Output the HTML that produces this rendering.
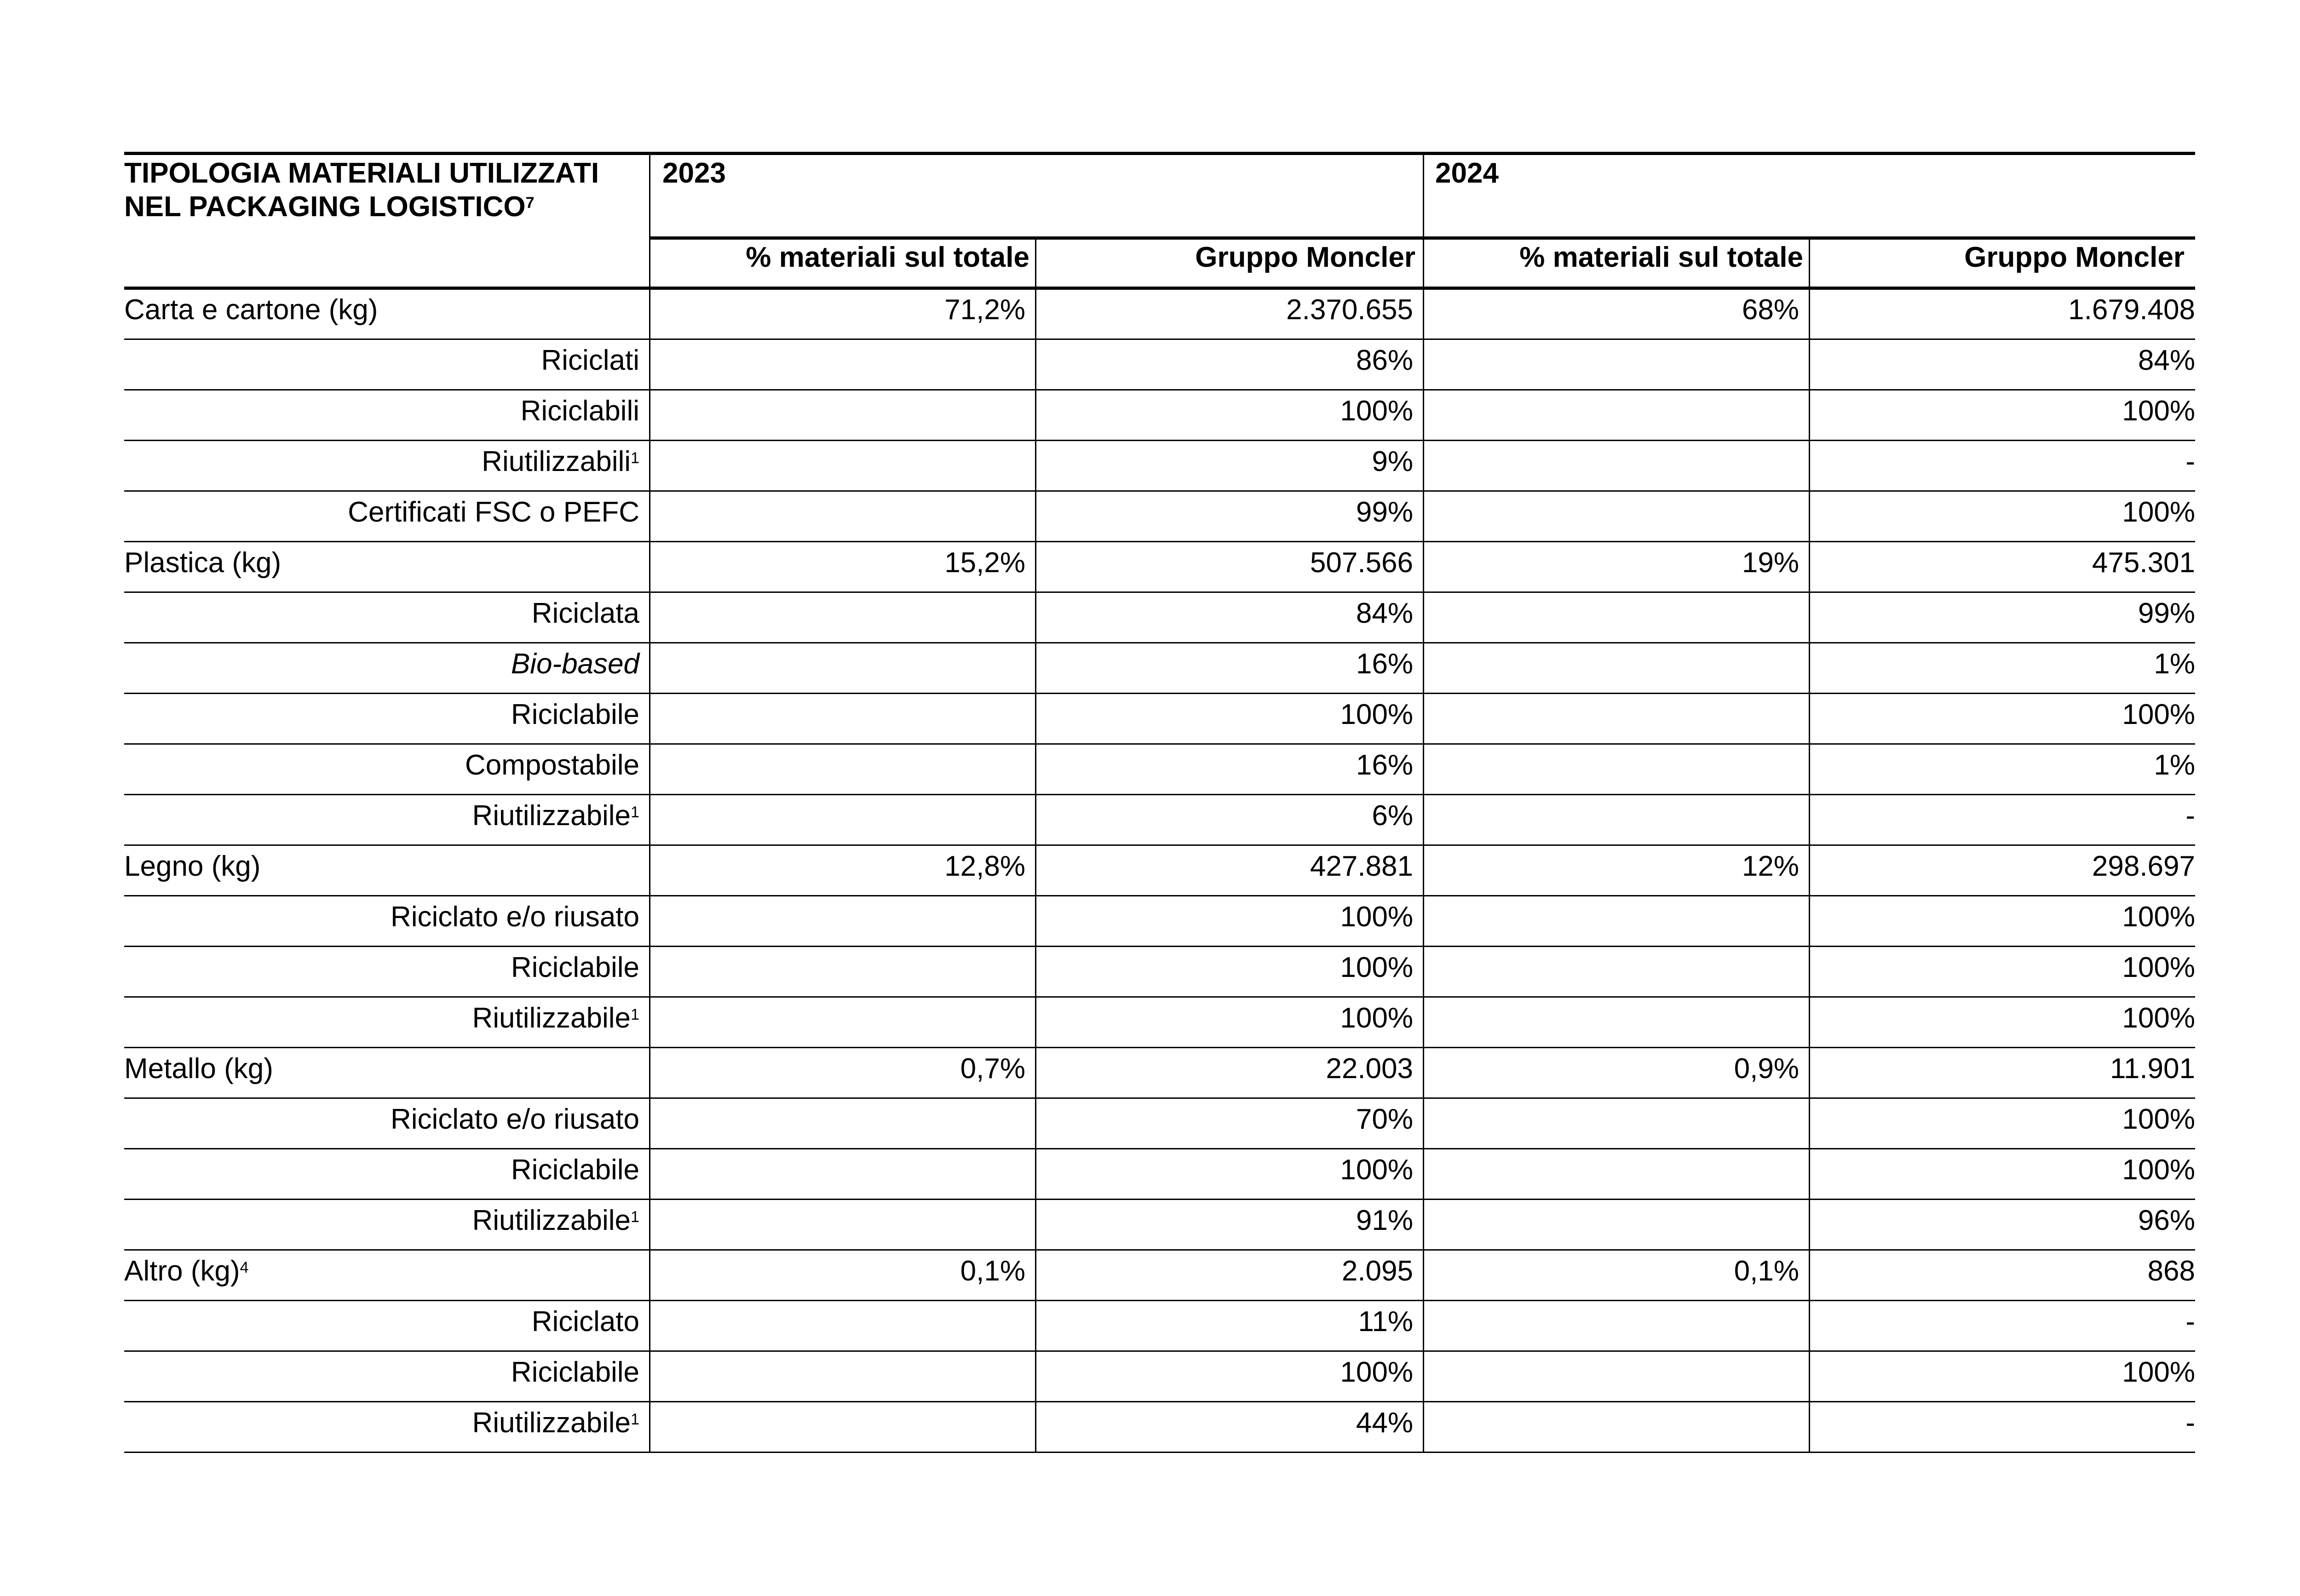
<!DOCTYPE html>
<html><head><meta charset="utf-8"><style>
body{margin:0;background:#fff;width:5042px;height:3470px;position:relative;overflow:hidden;font-family:"Liberation Sans",sans-serif;color:#000}
.l{position:absolute;background:#000}
.t{position:absolute;font-size:62px;line-height:90px;white-space:nowrap}
.r{text-align:right}
.b{font-weight:bold}
sup{font-size:55%;vertical-align:top;position:relative;top:-8px}
</style></head><body>
<div class="l" style="left:270px;top:330px;width:4502px;height:7px"></div>
<div class="l" style="left:1412px;top:514px;width:3360px;height:7px"></div>
<div class="l" style="left:270px;top:623px;width:4502px;height:7px"></div>
<div class="l" style="left:1411px;top:333px;width:3px;height:2826px"></div>
<div class="l" style="left:3093px;top:333px;width:3px;height:2826px"></div>
<div class="l" style="left:2250px;top:517px;width:3px;height:2642px"></div>
<div class="l" style="left:3932px;top:517px;width:3px;height:2642px"></div>
<div class="t b" style="left:270px;top:340px;line-height:73px">TIPOLOGIA MATERIALI UTILIZZATI<br>NEL PACKAGING LOGISTICO<sup>7</sup></div>
<div class="t b" style="left:1440px;top:340px;line-height:73px">2023</div>
<div class="t b" style="left:3120px;top:340px;line-height:73px">2024</div>
<div class="t b r" style="left:1412px;width:826px;top:522px;line-height:76px">% materiali sul totale</div>
<div class="t b r" style="left:2251px;width:826px;top:522px;line-height:76px">Gruppo Moncler</div>
<div class="t b r" style="left:3094px;width:826px;top:522px;line-height:76px">% materiali sul totale</div>
<div class="t b r" style="left:3933px;width:816px;top:522px;line-height:76px">Gruppo Moncler</div>
<div id="rows"></div>
<script>
var d=[
["Carta e cartone (kg)",0,"71,2%","2.370.655","68%","1.679.408"],
["Riciclati",1,"","86%","","84%"],
["Riciclabili",1,"","100%","","100%"],
["Riutilizzabili<sup>1</sup>",1,"","9%","","-"],
["Certificati FSC o PEFC",1,"","99%","","100%"],
["Plastica (kg)",0,"15,2%","507.566","19%","475.301"],
["Riciclata",1,"","84%","","99%"],
["<i>Bio-based</i>",1,"","16%","","1%"],
["Riciclabile",1,"","100%","","100%"],
["Compostabile",1,"","16%","","1%"],
["Riutilizzabile<sup>1</sup>",1,"","6%","","-"],
["Legno (kg)",0,"12,8%","427.881","12%","298.697"],
["Riciclato e/o riusato",1,"","100%","","100%"],
["Riciclabile",1,"","100%","","100%"],
["Riutilizzabile<sup>1</sup>",1,"","100%","","100%"],
["Metallo (kg)",0,"0,7%","22.003","0,9%","11.901"],
["Riciclato e/o riusato",1,"","70%","","100%"],
["Riciclabile",1,"","100%","","100%"],
["Riutilizzabile<sup>1</sup>",1,"","91%","","96%"],
["Altro (kg)<sup>4</sup>",0,"0,1%","2.095","0,1%","868"],
["Riciclato",1,"","11%","","-"],
["Riciclabile",1,"","100%","","100%"],
["Riutilizzabile<sup>1</sup>",1,"","44%","","-"]];
var h="";var cols=[[1412,2251],[2251,3094],[3094,3933],[3933,4772]];
d.forEach(function(r,i){var top=627+110*i;var lt=Math.round(top+110)-1;
h+='<div class="l" style="left:270px;top:'+lt+'px;width:4502px;height:3px"></div>';
var ty=Math.round(top+2);
if(r[1])h+='<div class="t r" style="left:270px;width:1120px;top:'+ty+'px">'+r[0]+'</div>';
else h+='<div class="t" style="left:270px;top:'+ty+'px">'+r[0]+'</div>';
for(var c=0;c<4;c++){var v=r[c+2];if(!v)continue;h+='<div class="t r" style="left:'+cols[c][0]+'px;width:'+(cols[c][1]-cols[c][0]-(c==3?0:22))+'px;top:'+ty+'px">'+v+'</div>';}
});
document.getElementById("rows").innerHTML=h;
</script>
</body></html>
